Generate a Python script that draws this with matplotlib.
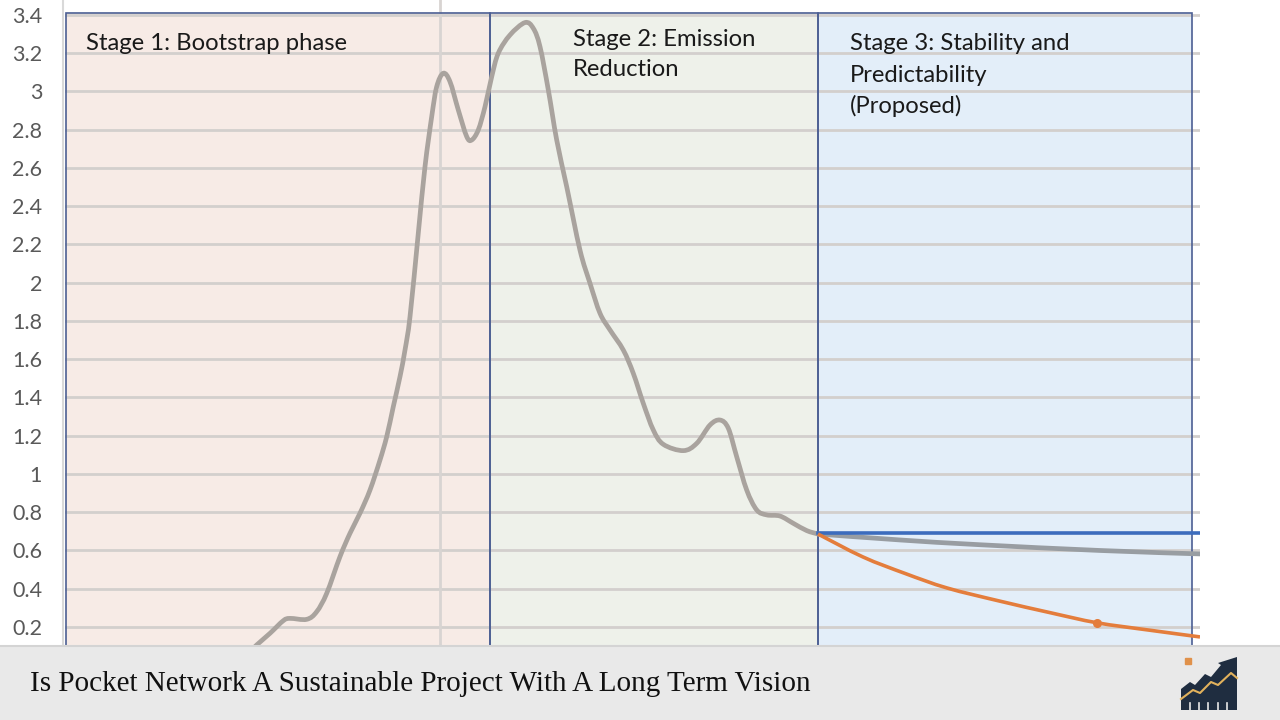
import matplotlib
matplotlib.use("Agg")
import matplotlib.pyplot as plt
from matplotlib.patches import Rectangle, Polygon, PathPatch
from matplotlib.lines import Line2D
from matplotlib.path import Path

# ---------------- data ----------------
y_ticks = [0.2, 0.4, 0.6, 0.8, 1.0, 1.2, 1.4, 1.6, 1.8, 2.0, 2.2, 2.4, 2.6, 2.8, 3.0, 3.2, 3.4]
y_tick_labels = ["0.2", "0.4", "0.6", "0.8", "1", "1.2", "1.4", "1.6", "1.8", "2",
                 "2.2", "2.4", "2.6", "2.8", "3", "3.2", "3.4"]

stage_bounds = [0.0, 42.4, 75.2, 112.6]
stage_colors = ["#f7ebe6", "#eef1ea", "#e3eef9"]
vertical_grid_x = [37.4]

hist_x = [18.2, 19.07, 20.4, 21.73, 22.4, 24.07, 25.07, 26.07, 27.4, 28.4, 29.4, 30.4, 31.4,
          32.07, 32.73, 33.4, 33.9, 34.4, 35.23, 35.9, 36.57, 37.07, 37.73, 38.4, 39.23,
          40.07, 40.57, 41.23, 41.9, 42.57, 43.23, 44.4, 45.9, 46.73, 47.4, 48.23, 49.07,
          50.07, 51.4, 52.4, 53.4, 54.4, 55.73, 56.73, 57.73, 58.73, 59.73, 61.73, 63.07,
          64.4, 65.4, 66.23, 67.07, 68.07, 69.07, 70.07, 71.4, 72.73, 74.07, 75.2]
hist_y = [0.06, 0.106, 0.167, 0.233, 0.245, 0.240, 0.280, 0.376, 0.568, 0.690, 0.795, 0.916,
          1.073, 1.195, 1.352, 1.509, 1.648, 1.822, 2.259, 2.607, 2.868, 3.025, 3.095,
          3.051, 2.903, 2.764, 2.746, 2.799, 2.920, 3.077, 3.200, 3.295, 3.360, 3.330,
          3.234, 3.008, 2.746, 2.502, 2.170, 1.997, 1.840, 1.753, 1.648, 1.526, 1.369,
          1.230, 1.155, 1.122, 1.160, 1.256, 1.282, 1.239, 1.090, 0.916, 0.812, 0.786,
          0.780, 0.742, 0.704, 0.686]

current_x = [75.2, 83.4, 91.4, 103.4, 113.4]
current_y = [0.686, 0.655, 0.630, 0.600, 0.582]

fixed_x = [75.2, 113.4]
fixed_y = [0.692, 0.692]

proposed_x = [75.2, 79.7, 83.9, 88.1, 93.4, 98.4, 103.1, 108.4, 113.4]
proposed_y = [0.686, 0.566, 0.480, 0.404, 0.335, 0.275, 0.222, 0.183, 0.148]
marker_x = [103.1]
marker_y = [0.222]

title = "Is Pocket Network A Sustainable Project With A Long Term Vision"


def smooth_path(xs, ys):
    """Catmull-Rom curve through the data points, drawn as cubic Bezier segments."""
    pts = list(zip(xs, ys))
    n = len(pts)
    verts = [pts[0]]
    codes = [Path.MOVETO]
    for i in range(n - 1):
        p0 = pts[i - 1] if i > 0 else pts[i]
        p1 = pts[i]
        p2 = pts[i + 1]
        p3 = pts[i + 2] if i + 2 < n else pts[i + 1]
        c1 = (p1[0] + (p2[0] - p0[0]) / 6.0, p1[1] + (p2[1] - p0[1]) / 6.0)
        c2 = (p2[0] - (p3[0] - p1[0]) / 6.0, p2[1] - (p3[1] - p1[1]) / 6.0)
        verts += [c1, c2, p2]
        codes += [Path.CURVE4, Path.CURVE4, Path.CURVE4]
    return Path(verts, codes)


# ---------------- figure ----------------
W, H = 1280, 720
fig = plt.figure(figsize=(12.8, 7.2), dpi=100)
fig.patch.set_facecolor("white")

ax = fig.add_axes([63 / W, 74 / H, 1137 / W, 646 / H])
ax.set_facecolor("white")
ax.set_xlim(-0.3, 113.4)
ax.set_ylim(0.1006, 3.478)

for i in range(3):
    ax.add_patch(Rectangle((stage_bounds[i], 0.0), stage_bounds[i + 1] - stage_bounds[i],
                           3.41, facecolor=stage_colors[i], edgecolor="none", zorder=1))

for yv in y_ticks:
    ax.axhline(yv, xmin=0.3 / 113.7, xmax=1, color="#d3cfcd", linewidth=2.0, zorder=2)
for xv in vertical_grid_x:
    ax.axvline(xv, color="#d8d4d2", linewidth=2.0, zorder=2)

for i in range(3):
    ax.add_patch(Rectangle((stage_bounds[i], 0.0), stage_bounds[i + 1] - stage_bounds[i],
                           3.41, facecolor="none", edgecolor="#4c5f93",
                           linewidth=1.2, zorder=3))

ax.add_patch(PathPatch(smooth_path(hist_x, hist_y), facecolor="none", edgecolor="#a9a39e",
                       linewidth=3.4, capstyle="round", joinstyle="round", zorder=5))
ax.add_patch(PathPatch(smooth_path(current_x, current_y), facecolor="none",
                       edgecolor="#989da2", linewidth=3.4, capstyle="round", zorder=5))
ax.plot(fixed_x, fixed_y, color="#3c6cbd", linewidth=2.6, zorder=6)
ax.add_patch(PathPatch(smooth_path(proposed_x, proposed_y), facecolor="none",
                       edgecolor="#e47d3c", linewidth=2.6, zorder=6))
ax.plot(marker_x, marker_y, "o", color="#e47d3c", markersize=5.5, zorder=7)

ax.set_xticks([])
ax.set_yticks(y_ticks)
ax.set_yticklabels(y_tick_labels)
ax.tick_params(axis="y", length=0, pad=15, labelsize=15.5, labelcolor="#595959")
for lab in ax.get_yticklabels():
    lab.set_fontfamily("Lato")
for s in ["top", "right", "bottom"]:
    ax.spines[s].set_visible(False)
ax.spines["left"].set_color("#d9d9d9")
ax.spines["left"].set_linewidth(1.5)


def ftxt(x, y, s, **kw):
    fig.text(x / W, 1 - y / H, s, **kw)


lab_kw = dict(fontsize=17.2, family="Lato", color="#1a1a1a", va="center", ha="left")
ftxt(86, 44, "Stage 1: Bootstrap phase", **lab_kw)
ftxt(573, 39, "Stage 2: Emission", **lab_kw)
ftxt(573, 70, "Reduction", **lab_kw)
ftxt(850, 44, "Stage 3: Stability and", **lab_kw)
ftxt(850, 75, "Predictability", **lab_kw)
ftxt(850, 106, "(Proposed)", **lab_kw)

# bottom banner
fig.patches.append(Rectangle((0, 0), 1, 74 / H, transform=fig.transFigure,
                             facecolor="#e9e9e9", edgecolor="none", zorder=10))
fig.lines.append(Line2D([0, 1], [74.5 / H, 74.5 / H], transform=fig.transFigure,
                        color="#d4d4d4", linewidth=1.5, zorder=11))
fig.text(30 / W, 1 - 684 / H, title, fontsize=21, family="Liberation Serif",
         color="#111111", va="center", ha="left", zorder=12)


def P(x, y):
    return (x / W, 1 - y / H)


icon_pts = [P(1181, 710), P(1181, 689), P(1190, 682), P(1195, 685), P(1205, 674),
            P(1211, 677), P(1221, 665), P(1218, 663), P(1237, 657), P(1237, 710)]
fig.patches.append(Polygon(icon_pts, closed=True, transform=fig.transFigure,
                           facecolor="#1f2d40", edgecolor="none", zorder=12))
zig = [P(1181, 699), P(1193, 690), P(1200, 693), P(1211, 682), P(1218, 685),
       P(1231, 673), P(1237, 678)]
fig.lines.append(Line2D([p[0] for p in zig], [p[1] for p in zig], transform=fig.transFigure,
                        color="#e2b25c", linewidth=1.5, zorder=13))
for bx in [1190, 1199, 1208, 1218, 1227]:
    fig.lines.append(Line2D([bx / W, bx / W], [1 - 710 / H, 1 - 703 / H],
                            transform=fig.transFigure, color="#e9e9e9", linewidth=1.2,
                            zorder=13))
dot = P(1188, 661)
fig.lines.append(Line2D([dot[0]], [dot[1]], transform=fig.transFigure, marker="s",
                        markersize=5, color="#e0914a", linestyle="none", zorder=13))

fig.savefig("out.png", dpi=100)
